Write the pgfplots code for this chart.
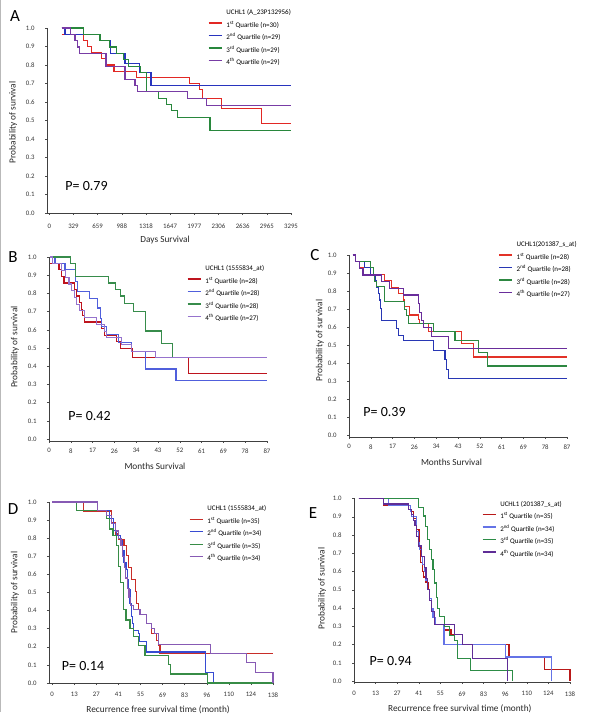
\documentclass[border=0pt]{standalone}
\usepackage{fontspec}
\setmainfont{Carlito}
\usepackage{pgfplots}
\pgfplotsset{compat=1.18}

\definecolor{redA}{RGB}{226,40,36}\definecolor{blueA}{RGB}{40,52,190}\definecolor{greenA}{RGB}{40,135,60}\definecolor{purpleA}{RGB}{120,60,165}
\definecolor{redB}{RGB}{190,20,30}\definecolor{blueB}{RGB}{80,95,220}\definecolor{greenB}{RGB}{55,140,75}\definecolor{purpleB}{RGB}{150,115,205}
\definecolor{redC}{RGB}{226,50,40}\definecolor{blueC}{RGB}{40,55,180}\definecolor{greenC}{RGB}{45,135,65}\definecolor{purpleC}{RGB}{105,45,155}
\definecolor{redD}{RGB}{200,45,40}\definecolor{blueD}{RGB}{55,75,210}\definecolor{greenD}{RGB}{55,140,70}\definecolor{purpleD}{RGB}{135,90,180}
\definecolor{redE}{RGB}{185,25,25}\definecolor{blueE}{RGB}{100,115,230}\definecolor{greenE}{RGB}{45,140,70}\definecolor{purpleE}{RGB}{95,45,150}

\pgfplotsset{
  km/.style={
    scale only axis, anchor=south west, axis lines*=left, clip=false,
    axis line style={line width=0.6pt, draw=black!75},
    tick style={line width=0.5pt, black!70},
    major tick length=2pt, tick align=outside,
    ytick={0,0.1,0.2,0.3,0.4,0.5,0.6,0.7,0.8,0.9,1},
    yticklabels={0.0,0.1,0.2,0.3,0.4,0.5,0.6,0.7,0.8,0.9,1.0},
    ticklabel style={font=\fontsize{6.8}{8}\selectfont, text=black!80},
    yticklabel style={xshift=-7pt},
    /pgf/number format/assume math mode=true,
    label style={font=\fontsize{9.3}{11}\selectfont, text=black!85},
    ylabel={Probability of survival},
    legend cell align=left,
    legend image code/.code={\draw[##1, line width=1.4pt] (0pt,2.2pt) -- (13pt,2.2pt);},
    legend style={draw=none, fill=none, anchor=north west, inner sep=0pt, outer sep=0pt,
      font=\fontsize{7}{8}\selectfont, row sep=3.3pt,
      nodes={inner sep=1pt, text height=5.5pt, text depth=1.7pt},
      /tikz/every odd column/.append style={column sep=3pt}},
  },
  kmline/.style={const plot, line width=1.1pt, mark=none},
  monthticks/.style={xtick={0,8.7,17.4,26.1,34.8,43.5,52.2,60.9,69.6,78.3,87},
    xticklabels={0,8,17,26,34,43,52,61,69,78,87}},
  rfsticks/.style={xtick={0,13.8,27.6,41.4,55.2,69,82.8,96.6,110.4,124.2,138},
    xticklabels={0,13,27,41,55,69,83,96,110,124,138}},
}

\begin{document}
\begin{tikzpicture}[x=1pt,y=1pt]
\useasboundingbox (0,0) rectangle (600,726);
\draw[gray!55, line width=1.2pt] (0.6,14) -- (0.6,726);

% ---------------- A ----------------
\begin{axis}[km, at={(47pt,513pt)}, width=244pt, height=185pt,
  xmin=-31, xmax=3295, ymin=0, ymax=1,
  xtick={0,329.5,659,988.5,1318,1647.5,1977,2306.5,2636,2965.5,3295},
  xticklabels={0,329,659,988,1318,1647,1977,2306,2636,2965,3295},
  xticklabel style={yshift=-5.5pt},
  xlabel={Days Survival},
  xlabel style={at={(axis description cs:0.484,-0.146)}, anchor=center},
  ylabel style={at={(axis description cs:-0.139,0.49)}, anchor=center},
  legend style={at={(0.66,1.1065)}}]
\addlegendimage{empty legend}\addlegendentry{UCHL1 (A\_23P132956)}
\addplot[kmline, color=redA] coordinates {(168,0.967)(464,0.933)(518,0.9)(577,0.867)(714,0.833)(782,0.8)(882,0.767)(1191,0.733)(1909,0.7)(2045,0.667)(2090,0.617)(2350,0.567)(2895,0.483)(3295,0.483)};
\addlegendentry{1\textsuperscript{st} Quartile (n=30)}
\addplot[kmline, color=blueA] coordinates {(168,1)(214,0.966)(691,0.931)(836,0.862)(1032,0.81)(1227,0.759)(1386,0.69)(3295,0.69)};
\addlegendentry{2\textsuperscript{nd} Quartile (n=29)}
\addplot[kmline, color=greenA] coordinates {(168,1)(464,0.966)(691,0.931)(827,0.897)(918,0.862)(1009,0.828)(1077,0.793)(1240,0.759)(1320,0.655)(1486,0.621)(1600,0.586)(1660,0.552)(1750,0.517)(2191,0.448)(3295,0.448)};
\addlegendentry{3\textsuperscript{rd} Quartile (n=29)}
\addplot[kmline, color=purpleA] coordinates {(168,1)(291,0.966)(350,0.931)(382,0.897)(418,0.862)(773,0.793)(1032,0.724)(1168,0.69)(1204,0.655)(1880,0.621)(2145,0.579)(3295,0.579)};
\addlegendentry{4\textsuperscript{th} Quartile (n=29)}
\node[anchor=west, font=\fontsize{14}{16}\selectfont] at (axis description cs:0.061,0.146) {P= 0.79};
\end{axis}

% ---------------- B ----------------
\begin{axis}[km, monthticks, at={(49pt,285pt)}, width=218pt, height=184pt,
  xmin=0, xmax=87, ymin=-0.01, ymax=1,
  xticklabel style={yshift=-2pt},
  xlabel={Months Survival},
  xlabel style={at={(axis description cs:0.486,-0.135)}, anchor=center},
  ylabel style={at={(axis description cs:-0.156,0.51)}, anchor=center},
  legend style={at={(0.633,0.9605)}}]
\addlegendimage{empty legend}\addlegendentry{UCHL1 (1555834\_at)}
\addplot[kmline, color=redB] coordinates {(0.5,0.964)(4,0.929)(5,0.893)(6,0.857)(10,0.821)(11,0.786)(12,0.75)(13,0.714)(13.5,0.679)(14,0.643)(21,0.607)(22,0.571)(27,0.536)(28.5,0.5)(33.5,0.45)(55.5,0.36)(87,0.36)};
\addlegendentry{1\textsuperscript{st} Quartile (n=28)}
\addplot[kmline, color=blueB] coordinates {(1,1)(2.4,0.964)(6.4,0.929)(10.4,0.864)(11.3,0.81)(16.1,0.77)(19.4,0.72)(20.4,0.66)(21,0.62)(22.8,0.575)(27.7,0.53)(33,0.48)(38.6,0.385)(50.7,0.32)(87,0.32)};
\addlegendentry{2\textsuperscript{nd} Quartile (n=28)}
\addplot[kmline, color=greenB] coordinates {(1,1)(8.7,0.964)(10.4,0.893)(23.7,0.857)(26.4,0.821)(28.4,0.786)(30,0.743)(33.7,0.7)(38.6,0.594)(44.8,0.523)(49.3,0.449)(87,0.449)};
\addlegendentry{3\textsuperscript{rd} Quartile (n=28)}
\addplot[kmline, color=purpleB] coordinates {(0.5,1)(1.5,0.963)(5,0.926)(6.5,0.889)(8,0.852)(9,0.815)(10,0.778)(11,0.741)(12,0.704)(14,0.667)(19,0.63)(22,0.593)(23,0.556)(29,0.519)(33,0.481)(42.4,0.449)(87,0.449)};
\addlegendentry{4\textsuperscript{th} Quartile (n=27)}
\node[anchor=west, font=\fontsize{14}{16}\selectfont] at (axis description cs:0.073,0.137) {P= 0.42};
\end{axis}

% ---------------- C ----------------
\begin{axis}[km, monthticks, at={(349pt,289pt)}, width=218pt, height=182pt,
  xmin=0, xmax=87, ymin=-0.01, ymax=1,
  xticklabel style={yshift=-2pt},
  xlabel={Months Survival},
  xlabel style={at={(axis description cs:0.47,-0.137)}, anchor=center},
  ylabel style={at={(axis description cs:-0.133,0.53)}, anchor=center},
  legend style={at={(0.685,1.081)}}]
\addlegendimage{empty legend}\addlegendentry{UCHL1(201387\_s\_at)}
\addplot[kmline, color=redC] coordinates {(1.5,1)(2.5,0.964)(4.3,0.929)(5.6,0.893)(14.3,0.857)(17,0.821)(19.6,0.786)(21.6,0.75)(22.3,0.714)(24.3,0.667)(27.9,0.643)(28.3,0.62)(31.6,0.575)(45,0.51)(49.6,0.434)(87,0.434)};
\addlegendentry{1\textsuperscript{st} Quartile (n=28)}
\addplot[kmline, color=blueC] coordinates {(1.5,1)(2.5,0.964)(6.3,0.929)(8.7,0.893)(10.5,0.857)(11,0.821)(11.6,0.786)(12,0.75)(12.7,0.702)(13,0.637)(18.9,0.59)(19.6,0.552)(21.6,0.524)(33.6,0.472)(38.3,0.42)(39,0.365)(39.6,0.314)(87,0.314)};
\addlegendentry{2\textsuperscript{nd} Quartile (n=28)}
\addplot[kmline, color=greenC] coordinates {(1.5,1)(2.5,0.964)(8.7,0.929)(9.6,0.893)(10.3,0.852)(11,0.824)(14.3,0.74)(22.3,0.7)(23,0.665)(23.6,0.618)(33.6,0.575)(42.3,0.524)(51.6,0.46)(55.4,0.384)(87,0.384)};
\addlegendentry{3\textsuperscript{rd} Quartile (n=28)}
\addplot[kmline, color=purpleC] coordinates {(1.5,1)(2.5,0.963)(4.3,0.926)(5.6,0.889)(13,0.852)(16,0.815)(21.6,0.778)(27.9,0.73)(28.3,0.683)(29,0.637)(29.6,0.6)(33,0.55)(39.6,0.483)(87,0.483)};
\addlegendentry{4\textsuperscript{th} Quartile (n=27)}
\node[anchor=west, font=\fontsize{14}{16}\selectfont] at (axis description cs:0.05,0.136) {P= 0.39};
\end{axis}

% ---------------- D ----------------
\begin{axis}[km, rfsticks, at={(49pt,43pt)}, width=224pt, height=181pt,
  xmin=-2, xmax=138, ymin=0, ymax=1,
  xticklabel style={yshift=-4pt},
  xlabel={Recurrence free survival time (month)},
  xlabel style={at={(axis description cs:0.487,-0.149)}, anchor=center},
  ylabel style={at={(axis description cs:-0.152,0.50)}, anchor=center},
  legend style={at={(0.625,0.987)}}]
\addlegendimage{empty legend}\addlegendentry{UCHL1 (1555834\_at)}
\addplot[kmline, color=redD] coordinates {(0,1)(19.4,0.95)(37.2,0.888)(39.3,0.823)(41.3,0.795)(44.9,0.758)(46.5,0.702)(47.6,0.64)(49.7,0.572)(51.8,0.507)(52.8,0.441)(53.9,0.404)(55,0.376)(59.1,0.33)(62.2,0.274)(65.4,0.236)(66.4,0.21)(67.4,0.162)(138,0.162)};
\addlegendentry{1\textsuperscript{st} Quartile (n=35)}
\addplot[kmline, color=blueD] coordinates {(0,1)(28.4,0.953)(36,0.907)(38.2,0.842)(40.3,0.814)(42.8,0.786)(44,0.73)(44.9,0.665)(46.1,0.628)(47,0.572)(47.6,0.516)(48.6,0.441)(49.7,0.367)(50.3,0.33)(50.7,0.292)(53.9,0.274)(54.5,0.227)(59.1,0.171)(95.6,0.06)(100.8,0)};
\addlegendentry{2\textsuperscript{nd} Quartile (n=34)}
\addplot[kmline, color=greenD] coordinates {(0,1)(15.2,0.952)(34,0.907)(36,0.851)(38,0.814)(40,0.758)(41.3,0.646)(42.8,0.553)(44.5,0.404)(46.1,0.348)(48.6,0.302)(50.7,0.255)(53.9,0.208)(58,0.153)(72.6,0.102)(74.1,0.05)(97.1,0)(138,0)};
\addlegendentry{3\textsuperscript{rd} Quartile (n=35)}
\addplot[kmline, color=purpleD] coordinates {(0,1)(28.4,0.953)(34,0.925)(37,0.88)(39.5,0.84)(41.5,0.8)(43,0.76)(44,0.7)(45,0.64)(46,0.58)(47,0.52)(48,0.47)(49,0.43)(51,0.404)(54.9,0.376)(59.1,0.33)(62.2,0.3)(64,0.274)(66.4,0.214)(98.7,0.162)(121.3,0.115)(126.9,0.06)(138,0)};
\addlegendentry{4\textsuperscript{th} Quartile (n=34)}
\node[anchor=west, font=\fontsize{14}{16}\selectfont] at (axis description cs:0.042,0.094) {P= 0.14};
\end{axis}

% ---------------- E ----------------
\begin{axis}[km, rfsticks, at={(354pt,44pt)}, width=216pt, height=183.5pt,
  xmin=0, xmax=138, ymin=-0.005, ymax=1,
  xticklabel style={yshift=-4pt},
  xlabel={Recurrence free survival time (month)},
  xlabel style={at={(axis description cs:0.49,-0.147)}, anchor=center},
  ylabel style={at={(axis description cs:-0.148,0.51)}, anchor=center},
  legend style={at={(0.592,0.993)}}]
\addlegendimage{empty legend}\addlegendentry{UCHL1 (201387\_s\_at)}
\addplot[kmline, color=redE] coordinates {(3,1)(19,0.963)(36,0.93)(38,0.89)(40,0.83)(41.5,0.74)(42.5,0.65)(43.5,0.6)(44.5,0.57)(46,0.54)(47.5,0.5)(48.5,0.45)(49.5,0.4)(50.5,0.36)(51.5,0.31)(58,0.28)(62,0.257)(69.5,0.202)(99,0.132)(121.5,0.064)(138,0)};
\addlegendentry{1\textsuperscript{st} Quartile (n=35)}
\addplot[kmline, color=blueE] coordinates {(3,1)(22,0.963)(36,0.93)(37,0.9)(40,0.82)(41,0.76)(42,0.72)(43,0.68)(44,0.64)(45,0.6)(46,0.55)(47,0.5)(48,0.45)(49.5,0.4)(50.5,0.35)(52,0.31)(57.5,0.2)(96.9,0.132)(126.4,0)};
\addlegendentry{2\textsuperscript{nd} Quartile (n=34)}
\addplot[kmline, color=greenE] coordinates {(3,1)(41,0.95)(44.2,0.904)(45.7,0.849)(47,0.776)(48.4,0.72)(49.5,0.665)(50.5,0.61)(51.6,0.537)(52.6,0.46)(53.5,0.4)(54.7,0.353)(57.9,0.298)(61,0.252)(64.2,0.224)(66.3,0.123)(74.7,0.059)(101.1,0)};
\addlegendentry{3\textsuperscript{rd} Quartile (n=35)}
\addplot[kmline, color=purpleE] coordinates {(3,1)(19,0.97)(35,0.94)(37,0.91)(38,0.88)(39,0.85)(40,0.79)(41,0.74)(43,0.68)(45,0.62)(46,0.56)(47,0.5)(48,0.44)(49.5,0.38)(51.5,0.31)(64.2,0.257)(69.5,0.2)(75.8,0.123)(97.9,0)};
\addlegendentry{4\textsuperscript{th} Quartile (n=34)}
\node[anchor=west, font=\fontsize{14}{16}\selectfont] at (axis description cs:0.056,0.116) {P= 0.94};
\end{axis}

% panel letters
\node[font=\fontsize{17}{18}\selectfont] at (15,710) {A};
\node[font=\fontsize{17}{18}\selectfont] at (13,469) {B};
\node[font=\fontsize{17}{18}\selectfont] at (315,471) {C};
\node[font=\fontsize{17}{18}\selectfont] at (13,217) {D};
\node[font=\fontsize{17}{18}\selectfont] at (313,213) {E};
\end{tikzpicture}
\end{document}
